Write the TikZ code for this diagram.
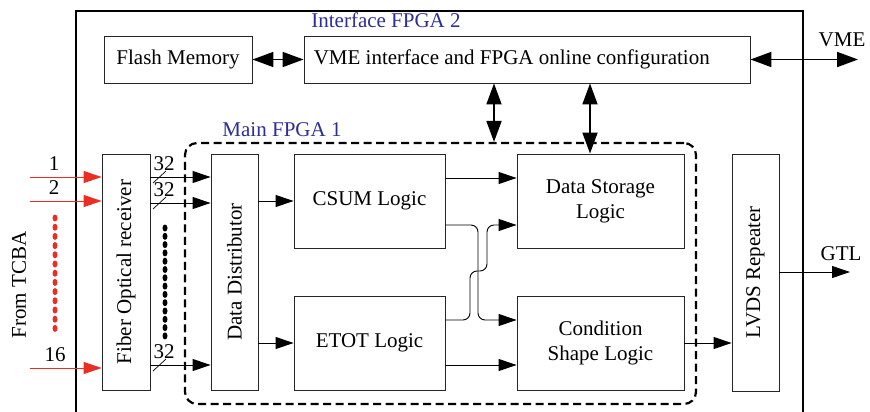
\documentclass[tikz,border=0pt]{standalone}
\usepackage{fontspec}
\setmainfont{Liberation Serif}
\usetikzlibrary{arrows.meta,calc}
\definecolor{lblue}{RGB}{45,45,150}
\definecolor{lred}{RGB}{235,45,35}
\tikzset{
  box/.style={draw=black!85,line width=0.9pt,inner sep=0pt,align=center,font=\fontsize{21}{25}\selectfont},
  lbl/.style={inner sep=0pt,font=\fontsize{21}{25}\selectfont},
  tip/.style={-{Triangle[length=18pt,width=12pt]}},
  dtip/.style={{Triangle[length=21pt,width=15pt]}-{Triangle[length=21pt,width=15pt]}},
  conn/.style={line width=0.9pt,tip},
  dconn/.style={line width=1.8pt,dtip},
  redarrow/.style={line width=0.9pt,lred,-{Triangle[length=18pt,width=12pt]}},
}
\begin{document}
\begin{tikzpicture}[x=1pt,y=-1pt]
\useasboundingbox (0,0) rectangle (870,412);
% outer board
\draw[line width=2.2pt] (76,415) -- (76,11) -- (803,11) -- (803,415);
\node[lbl,text=lblue] (ifpga) at (386,20) {Interface FPGA 2};
% main FPGA dashed box
\node[draw,line width=2.2pt,dash pattern=on 8pt off 4.5pt,rounded corners=12pt,minimum width=511pt,minimum height=261pt,inner sep=0pt] (main) at (440.5,273.5) {};
\node[lbl,text=lblue] (mfpga) at (282,130) {Main FPGA 1};
% boxes
\node[box,minimum width=148pt,minimum height=47pt] (flash) at (178,59.5) {Flash Memory};
\node[box,minimum width=446pt,minimum height=47pt] (vme) at (527,59.5) {};
\node[lbl,anchor=west] (vmet) at ([xshift=10pt]vme.west) {VME interface and FPGA online configuration};
\node[box,minimum width=48pt,minimum height=236pt] (fiber) at (126,272) {};
\node[lbl,rotate=90] (fibert) at (fiber.center) {Fiber Optical receiver};
\node[box,minimum width=47pt,minimum height=236pt] (dist) at (234.5,272) {};
\node[lbl,rotate=90] (distt) at (dist.center) {Data Distributor};
\node[box,minimum width=151pt,minimum height=94pt] (csum) at (369.5,201) {CSUM Logic};
\node[box,minimum width=151pt,minimum height=94pt] (etot) at (369.5,343) {ETOT Logic};
\node[box,minimum width=167pt,minimum height=94pt] (store) at (600.5,201) {Data Storage\\Logic};
\node[box,minimum width=167pt,minimum height=94pt] (cond) at (600.5,343) {Condition\\Shape Logic};
\node[box,minimum width=47pt,minimum height=237pt] (lvds) at (755.5,272.5) {};
\node[lbl,rotate=90] (lvdst) at (lvds.center) {LVDS Repeater};
% top connectors
\draw[dconn] (flash.east) -- (vme.west);
\coordinate (vmeend) at (858,59.5);
\draw[dconn] (vme.east) -- (vmeend);
\node[lbl] (vmel) at (842,40) {VME};
\coordinate (xa) at (494,0);
\coordinate (xb) at (590,0);
\draw[dconn] (vme.south -| xa) -- (main.north -| xa);
\draw[dconn] (vme.south -| xb) -- (store.north -| xb);
% inputs
\coordinate (in1) at (30,177);
\coordinate (in2) at (30,201);
\coordinate (in16) at (30,368);
\draw[redarrow] (in1) -- (fiber.west |- in1);
\draw[redarrow] (in2) -- (fiber.west |- in2);
\draw[redarrow] (in16) -- (fiber.west |- in16);
\node[lbl] (l1) at (54,164) {1};
\node[lbl] (l2) at (54,188) {2};
\node[lbl] (l16) at (55,355) {16};
\foreach \i in {0,...,12} \fill[lred] (55,{218+\i*9.2}) ellipse (2.5pt and 3.5pt);
\node[lbl,rotate=90] (tcba) at (19,285) {From TCBA};
% fiber -> distributor
\foreach \yy/\nm in {177/a,203/b,365/c}{
  \coordinate (f\nm) at (150,\yy);
  \draw[conn] (f\nm) -- (dist.west |- f\nm);
  \draw[line width=0.7pt] (153,\yy+6) -- (166,\yy-6);
  \node[lbl] (n\nm) at (164,\yy-13) {32};
}
\foreach \i in {0,...,13} \fill[black] (165,{228+\i*8.3}) ellipse (2.5pt and 3.5pt);
% distributor -> logic
\draw[conn] (dist.east |- 0,201) -- (csum.west |- 0,201);
\draw[conn] (dist.east |- 0,343) -- (etot.west |- 0,343);
% logic -> storage / condition
\draw[conn] (csum.east |- 0,178) -- (store.west |- 0,178);
\draw[conn] (etot.east |- 0,365) -- (cond.west |- 0,365);
\draw[conn,rounded corners=7pt] (csum.east |- 0,225) -- (478,225) -- (478,320) -- (cond.west |- 0,320);
\draw[conn,rounded corners=7pt] (etot.east |- 0,320) -- (470,320) -- (470,271) -- (487,271) -- (487,225) -- (store.west |- 0,225);
% condition -> LVDS -> GTL
\draw[conn] (cond.east |- 0,343) -- (lvds.west |- 0,343);
\coordinate (gtlend) at (850,272);
\draw[conn] (lvds.east |- gtlend) -- (gtlend);
\node[lbl] (gtl) at (841,254) {GTL};
\end{tikzpicture}
\end{document}
